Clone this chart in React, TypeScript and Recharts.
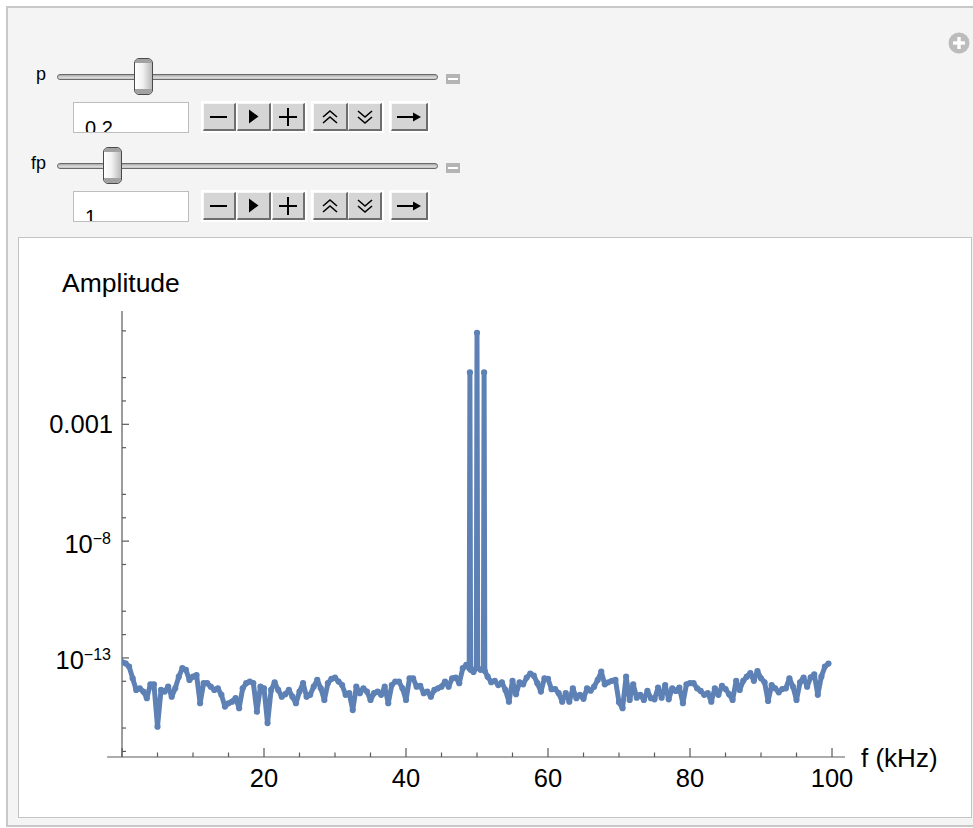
import React from "react";
import { LineChart, Line, XAxis, YAxis, ReferenceLine } from "recharts";

// log10(amplitude), every 0.5 kHz from 0 to 48.5 kHz
const lowBandStart = 0;
const lowBand = [
  -13.18, -13.23, -13.37, -13.87, -14.37, -14.3, -14.44, -14.72, -14.13, -14.13,
  -15.94, -14.37, -14.44, -14.23, -14.66, -14.3, -13.8, -13.44, -13.51, -13.94,
  -13.8, -13.73, -14.94, -14.08, -14.08, -14.23, -14.37, -14.3, -14.58, -15.08,
  -14.94, -14.87, -14.72, -15.15, -14.3, -14.08, -14.01, -14.08, -15.3, -14.23,
  -14.3, -15.79, -14.37, -14.04, -14.37, -14.66, -14.55, -14.37, -14.66, -14.94,
  -14.44, -14.08, -14.66, -14.58, -14.23, -13.94, -14.3, -14.8, -14.08, -13.9,
  -13.84, -14.01, -14.16, -14.58, -14.51, -15.23, -14.23, -14.51, -14.3, -14.44,
  -14.8, -14.51, -14.44, -14.58, -14.23, -14.94, -14.16, -14.01, -14.01, -14.3,
  -14.8, -13.87, -13.87, -14.23, -14.19, -14.51, -14.44, -14.66, -14.37, -14.3,
  -14.23, -14.01, -14.23, -13.87, -13.84, -14.08, -13.44, -13.3,
];

// the 50 kHz carrier and its two sidebands
const peakKHz = [48.9, 49, 49.1, 49.5, 49.9, 50, 50.1, 50.5, 50.9, 51, 51.1];
const peakLog = [-13.43, -0.78, -13.51, -13.6, -13.43, 0.92, -13.43, -13.51, -13.43, -0.78, -13.56];

// log10(amplitude), every 0.5 kHz from 51.5 to 99.5 kHz
const highBandStart = 51.5;
const highBand = [
  -13.8, -14.04, -13.98, -14.16, -14.04, -14.37, -14.87, -13.98, -14.55, -14.04,
  -14.13, -13.84, -13.67, -13.76, -14.08, -14.44, -13.87, -13.9, -14.34, -14.33,
  -14.51, -14.87, -14.51, -14.87, -14.3, -14.72, -14.58, -14.75, -14.3, -14.4,
  -14.23, -13.94, -13.59, -14.13, -14.04, -13.98, -13.94, -14.9, -15.15, -13.8,
  -14.8, -14.13, -14.7, -14.58, -14.8, -14.41, -14.72, -14.77, -14.27, -14.7,
  -14.16, -14.77, -14.3, -14.41, -14.27, -14.94, -14.13, -14.08, -14.08, -14.3,
  -14.41, -14.58, -14.51, -14.87, -14.3, -14.58, -14.19, -14.33, -14.55, -14.8,
  -13.98, -14.37, -13.98, -13.8, -13.65, -13.98, -13.56, -13.87, -14.04, -14.84,
  -14.16, -14.3, -14.47, -14.33, -14.3, -13.87, -14.23, -14.8, -14.04, -13.84,
  -14.23, -13.83, -13.7, -14.58, -13.8, -13.37, -13.24,
];
const bandStep = 0.5;

const xTicks = [0, 5, 10, 15, 20, 25, 30, 35, 40, 45, 50, 55, 60, 65, 70, 75, 80, 85, 90, 95, 100];
const xLabelled = [20, 40, 60, 80, 100];
const yMajorExp = [-13, -8, -3];
const yMinorExp = [-17, -16, -14, -12, -11, -9, -7, -6, -4, -2, -1, 1];
const yLabels: Record<number, [string, string]> = {
  [-3]: ["0.001", ""],
  [-8]: ["10", "\u22128"],
  [-13]: ["10", "\u221213"],
};

const xMin = -2.1;
const xMax = 101.83;
const yMinExp = -17.24;
const yMaxExp = 1.85;

const data = [
  ...lowBand.map((v, i) => ({ f: lowBandStart + i * bandStep, amp: 10 ** v })),
  ...peakKHz.map((f, i) => ({ f, amp: 10 ** peakLog[i] })),
  ...highBand.map((v, i) => ({ f: highBandStart + i * bandStep, amp: 10 ** v })),
];
const yTicks = [...yMinorExp, ...yMajorExp].sort((a, b) => a - b).map((e) => 10 ** e);

const FONT = '"Liberation Sans", Arial, Helvetica, sans-serif';
const BLUE = "#5e81b5";
const AXIS = "#5a5a5a";
const TICK_FONT = 25.5;

function XTick(props: any) {
  const { x, y, payload } = props;
  const v = payload.value;
  const major = v % 20 === 0;
  return (
    <g>
      <line x1={x} x2={x} y1={y} y2={y - (major ? 9 : 4.5)} stroke={AXIS} strokeWidth={1.2} />
      {xLabelled.includes(v) && (
        <text x={x} y={y + 29.5} textAnchor="middle" fontSize={TICK_FONT} fill="#000">
          {v}
        </text>
      )}
    </g>
  );
}

function YTick(props: any) {
  const { x, y, payload } = props;
  const e = Math.round(Math.log10(payload.value));
  const major = yMajorExp.includes(e);
  const lab = yLabels[e];
  return (
    <g>
      <line x1={x} x2={x + (major ? 7 : 4)} y1={y} y2={y} stroke={AXIS} strokeWidth={1.2} />
      {lab && !lab[1] && (
        <text x={x - 9} y={y + 9} textAnchor="end" fontSize={TICK_FONT} fill="#000">
          {lab[0]}
        </text>
      )}
      {lab && lab[1] && (
        <text x={x - 11} y={y + 11.5} textAnchor="end" fontSize={TICK_FONT} fill="#000">
          {lab[0]}
          <tspan fontSize={16} dy={-9}>
            {lab[1]}
          </tspan>
        </text>
      )}
    </g>
  );
}

function Btn({ left, top, w, children }: { left: number; top: number; w: number; children: React.ReactNode }) {
  return (
    <div
      style={{
        position: "absolute",
        left,
        top,
        width: w,
        height: 28,
        boxSizing: "border-box",
        background: "#d5d5d5",
        borderTop: "1px solid #f6f6f6",
        borderLeft: "1px solid #f6f6f6",
        borderRight: "2px solid #6e6e6e",
        borderBottom: "2px solid #6e6e6e",
        display: "flex",
        alignItems: "center",
        justifyContent: "center",
      }}
    >
      {children}
    </div>
  );
}

const MinusIcon = () => (
  <svg width={18} height={4}><rect x={0} y={1} width={17} height={2} fill="#000" /></svg>
);
const PlayIcon = () => (
  <svg width={11} height={15}><polygon points="1,0.5 10.5,7.5 1,14.5" fill="#000" /></svg>
);
const PlusIcon = () => (
  <svg width={18} height={18}>
    <rect x={0} y={8} width={18} height={2} fill="#000" />
    <rect x={8} y={0} width={2} height={18} fill="#000" />
  </svg>
);
const UpIcon = () => (
  <svg width={18} height={16} fill="none" stroke="#000" strokeWidth={1.6}>
    <polyline points="2,8 9,2 16,8" />
    <polyline points="2,14 9,8 16,14" />
  </svg>
);
const DownIcon = () => (
  <svg width={18} height={16} fill="none" stroke="#000" strokeWidth={1.6}>
    <polyline points="2,2 9,8 16,2" />
    <polyline points="2,8 9,14 16,8" />
  </svg>
);
const ArrowIcon = () => (
  <svg width={24} height={10}>
    <rect x={0} y={4} width={18} height={2} fill="#000" />
    <polygon points="16,0.5 24,5 16,9.5" fill="#000" />
  </svg>
);

function ControlRow({ label, top, thumbLeft, value }: { label: string; top: number; thumbLeft: number; value: string }) {
  // top = vertical centre of the slider track
  const rowTop = top + 26;
  return (
    <>
      <div style={{ position: "absolute", left: 0, width: 46, top: top - 12, fontSize: 18, lineHeight: "18px", textAlign: "right" }}>
        {label}
      </div>
      <div
        style={{
          position: "absolute",
          left: 57,
          top: top - 3,
          width: 381,
          height: 6,
          boxSizing: "border-box",
          border: "1px solid #6a6a6a",
          borderRadius: 3,
          background: "linear-gradient(#a8a8a8, #dadada 60%, #c4c4c4)",
        }}
      />
      <div
        style={{
          position: "absolute",
          left: thumbLeft,
          top: top - 19,
          width: 19,
          height: 37,
          boxSizing: "border-box",
          border: "1px solid #4a4a4a",
          borderRadius: 5,
          overflow: "hidden",
          background: "linear-gradient(to right, #ffffff, #f2f2f2 45%, #b8b8b8)",
        }}
      >
        <div style={{ position: "absolute", left: 0, top: 0, width: "100%", height: 4, background: "#a2a2a2" }} />
        <div style={{ position: "absolute", left: 0, bottom: 0, width: "100%", height: 5, background: "#a2a2a2" }} />
      </div>
      <div style={{ position: "absolute", left: 446, top: top - 3, width: 14, height: 10, background: "#b4b4b4" }}>
        <div style={{ position: "absolute", left: 2, top: 4, width: 10, height: 2, background: "#fff" }} />
      </div>
      <div
        style={{
          position: "absolute",
          left: 73,
          top: rowTop - 1,
          width: 116,
          height: 31,
          boxSizing: "border-box",
          border: "1px solid #bdbdbd",
          background: "#fff",
          overflow: "hidden",
        }}
      >
        <span style={{ position: "absolute", left: 11, top: 14.5, fontSize: 20, lineHeight: "20px" }}>{value}</span>
      </div>
      <div style={{ position: "absolute", left: 201, top: rowTop - 2, width: 106, height: 32, background: "#fff" }} />
      <div style={{ position: "absolute", left: 311, top: rowTop - 2, width: 73, height: 32, background: "#fff" }} />
      <div style={{ position: "absolute", left: 389, top: rowTop - 2, width: 41, height: 32, background: "#fff" }} />
      <Btn left={203} top={rowTop} w={33}><MinusIcon /></Btn>
      <Btn left={237} top={rowTop} w={34}><PlayIcon /></Btn>
      <Btn left={272} top={rowTop} w={33}><PlusIcon /></Btn>
      <Btn left={313} top={rowTop} w={35}><UpIcon /></Btn>
      <Btn left={348} top={rowTop} w={34}><DownIcon /></Btn>
      <Btn left={391} top={rowTop} w={37}><ArrowIcon /></Btn>
    </>
  );
}

export default function App() {
  const yMin = 10 ** yMinExp;
  return (
    <div style={{ position: "relative", width: 973, height: 828, overflow: "hidden", background: "#fff", fontFamily: FONT }}>
      <style>{"body{margin:0}"}</style>
      <div
        style={{
          position: "absolute",
          left: 6,
          top: 6,
          width: 990,
          height: 821,
          boxSizing: "border-box",
          border: "2px solid #c8c8c8",
          background: "#f4f4f4",
        }}
      />
      <svg style={{ position: "absolute", left: 948, top: 32 }} width={22} height={22}>
        <circle cx={11} cy={11} r={10.5} fill="#bcbcbc" />
        <rect x={5} y={9.3} width={12} height={3.4} fill="#fff" />
        <rect x={9.3} y={5} width={3.4} height={12} fill="#fff" />
      </svg>

      <ControlRow label="p" top={77} thumbLeft={134} value="0.2" />
      <ControlRow label="fp" top={166} thumbLeft={103} value="1" />

      <div
        style={{
          position: "absolute",
          left: 18,
          top: 237,
          width: 954,
          height: 581,
          boxSizing: "border-box",
          border: "1px solid #c4c4c4",
          background: "#fff",
        }}
      />
      <div style={{ position: "absolute", left: 19, top: 238 }}>
        <LineChart
          width={952}
          height={579}
          data={data}
          margin={{ top: 73, right: 126, bottom: 20, left: 43 }}
          style={{ fontFamily: FONT }}
        >
          <XAxis
            dataKey="f"
            type="number"
            domain={[0, xMax]}
            allowDataOverflow
            ticks={xTicks}
            interval={0}
            height={40}
            axisLine={false}
            tickLine={false}
            tickSize={0}
            tickMargin={0}
            tick={<XTick />}
            label={{
              content: (p: any) => (
                <text x={p.viewBox.x + p.viewBox.width + 16} y={p.viewBox.y + 10} fontSize={26} fill="#000">
                  f (kHz)
                </text>
              ),
            }}
          />
          <YAxis
            dataKey="amp"
            scale="log"
            domain={[yMin, 10 ** yMaxExp]}
            allowDataOverflow
            ticks={yTicks}
            interval={0}
            width={60}
            axisLine={{ stroke: AXIS, strokeWidth: 1.2 }}
            tickLine={false}
            tickSize={0}
            tickMargin={0}
            tick={<YTick />}
            label={{
              content: (p: any) => (
                <text x={p.viewBox.x} y={p.viewBox.y - 19} fontSize={26.5} fill="#000">
                  Amplitude
                </text>
              ),
            }}
          />
          <ReferenceLine
            segment={[
              { x: xMin, y: yMin },
              { x: xMax, y: yMin },
            ]}
            stroke={AXIS}
            strokeWidth={1.2}
            ifOverflow="visible"
          />
          <Line
            dataKey="amp"
            type="linear"
            stroke={BLUE}
            strokeWidth={5}
            strokeLinejoin="round"
            strokeLinecap="round"
            dot={{ r: 3.1, fill: BLUE, stroke: BLUE, strokeWidth: 0 }}
            isAnimationActive={false}
          />
        </LineChart>
      </div>
    </div>
  );
}
